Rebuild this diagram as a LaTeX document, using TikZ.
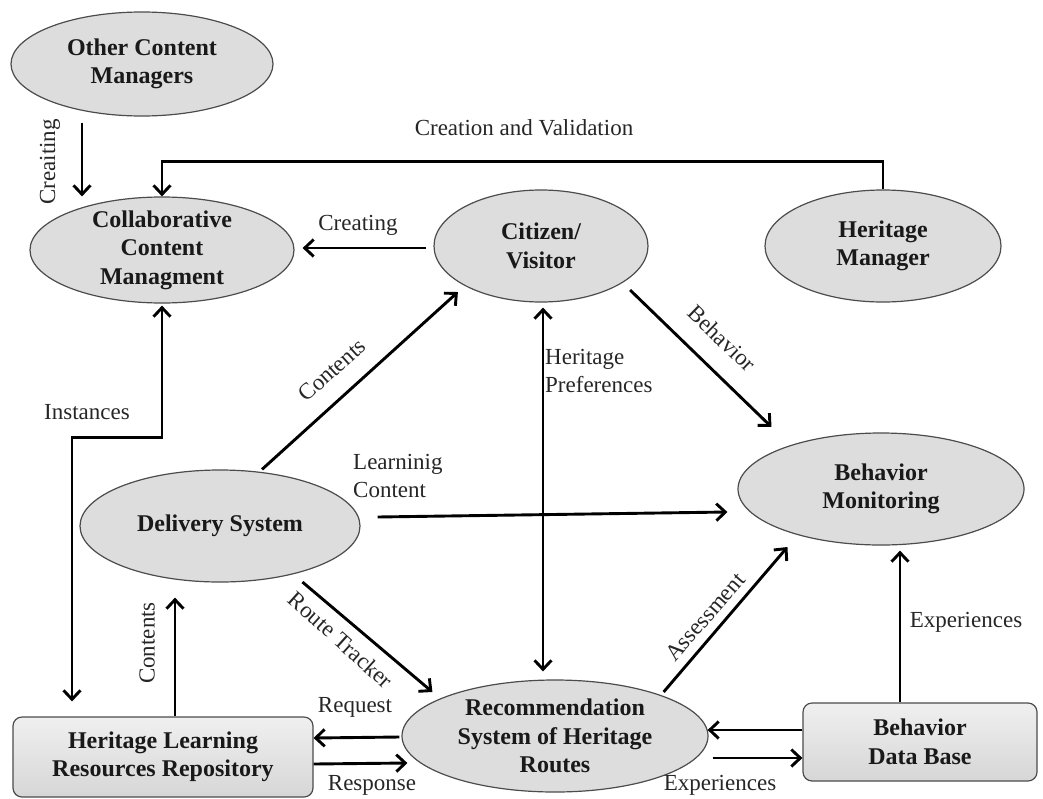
\documentclass[tikz,border=0pt]{standalone}
\usepackage{fontspec}
\setmainfont{Liberation Serif}
\usetikzlibrary{shapes.geometric,arrows.meta,calc}
\begin{document}
\begin{tikzpicture}[x=1pt,y=-1pt,
  nt/.style={align=center, inner sep=0pt, font=\fontsize{24}{28.5}\selectfont\bfseries, text=black!90},
  ell/.style={ellipse, draw=gray!60!black, line width=1.2pt, fill=gray!27, inner sep=0pt},
  box/.style={rectangle, rounded corners=9pt, draw=gray!60!black, line width=1.2pt, top color=gray!12, bottom color=gray!32, inner sep=0pt},
  lbl/.style={font=\fontsize{23}{27.5}\selectfont, inner sep=0pt, text=black!85},
  tip/.tip={Straight Barb[length=9pt,width=17pt]},
  arr/.style={line width=2.9pt, -tip},
  darr/.style={line width=2.9pt, tip-tip}
]
\useasboundingbox (0,0) rectangle (1043,798);

% nodes
\node[ell, minimum width=262pt, minimum height=104pt, label={[nt]center:Other Content\\Managers}] (ocm) at (142,64) {};
\node[ell, minimum width=264pt, minimum height=106pt, label={[nt]center:Collaborative\\Content\\Managment}] (ccm) at (162,250) {};
\node[ell, minimum width=214pt, minimum height=112pt, label={[nt]center:Citizen/\\Visitor}] (cv) at (541,246) {};
\node[ell, minimum width=236pt, minimum height=112pt, label={[nt]center:Heritage\\Manager}] (hm) at (883,246) {};
\node[ell, minimum width=286pt, minimum height=112pt, label={[nt]center:Behavior\\Monitoring}] (bm) at (881,489) {};
\node[ell, minimum width=280pt, minimum height=112pt, label={[nt]center:Delivery System}] (ds) at (220,526) {};
\node[ell, minimum width=306pt, minimum height=112pt, label={[nt]center:Recommendation\\System of Heritage\\Routes}] (rs) at (555,736) {};
\node[box, minimum width=300pt, minimum height=80pt, label={[nt]center:Heritage Learning\\Resources Repository}] (hlr) at (163,757) {};
\node[box, minimum width=234pt, minimum height=78pt, label={[nt]center:Behavior\\Data Base}] (bdb) at (920,742) {};

% connectors
\draw[arr] ($(ocm.south)+(-60,6)$) -- ($(ccm.north)+(-80,0)$);
\draw[arr] (hm.north) -- ++(0,-28) -| (ccm.north);
\draw[arr] ($(cv.west)+(-7,2)$) -- ($(ccm.east)+(8,-2)$);
\draw[arr] ($(ds.north)+(42,0)$) -- ($(cv.south west)+(-7,6)$);
\draw[arr] ($(cv.south east)+(13,4)$) -- ($(bm.north west)+(-8,-22)$);
\draw[arr] ($(ds.east)+(17,-9)$) -- ($(bm.west)+(-10,23)$);
\draw[darr] ($(ccm.south)+(0,2)$) -- ++(0,132) -| ($(hlr.north)+(-91,-15)$);
\draw[arr] ($(hlr.north)+(12,0)$) -- ($(ds.south)+(-45,15)$);
\draw[arr] ($(ds.south east)+(-17,16)$) -- ($(rs.north west)+(-14,-4)$);
\draw[arr] ($(rs.west)+(-2,1)$) -- ($(hlr.east)+(0,-19)$);
\draw[arr] ($(hlr.east)+(0,7)$) -- ($(rs.west)+(6,27)$);
\draw[darr] ($(cv.south)+(2,5)$) -- ($(rs.north)+(-12,-8)$);
\draw[arr] ($(rs.north east)+(0,-4)$) -- ($(bm.south west)+(8,18)$);
\draw[arr] ($(bdb.west)+(0,-12)$) -- ($(rs.east)+(-1,-6)$);
\draw[arr] ($(rs.east)+(4,22)$) -- ($(bdb.west)+(0,16)$);
\draw[arr] ($(bdb.north)+(-20,0)$) -- ($(bm.south)+(19,5)$);

% labels
\node[lbl] (l1) at (524,128) {Creation and Validation};
\node[lbl, rotate=90] (l2) at (50,162) {Creaiting};
\node[lbl] (l3) at (358,225) {Creating};
\node[lbl, rotate=42] (l4) at (332,370) {Contents};
\node[lbl, rotate=-44] (l5) at (722,338) {Behavior};
\node[lbl, align=left, anchor=west] (l6) at (353,476) {Learninig\\Content};
\node[lbl] (l7) at (87,412) {Instances};
\node[lbl, rotate=90] (l8) at (147,643) {Contents};
\node[lbl, rotate=-42] (l9) at (341,640) {Route Tracker};
\node[lbl] (l10) at (355,707) {Request};
\node[lbl] (l11) at (372,785) {Response};
\node[lbl, align=left, anchor=west] (l12) at (545,371) {Heritage\\Preferences};
\node[lbl, rotate=49] (l13) at (705,617) {Assessment};
\node[lbl] (l14) at (966,622) {Experiences};
\node[lbl] (l15) at (720,785) {Experiences};
\end{tikzpicture}
\end{document}
